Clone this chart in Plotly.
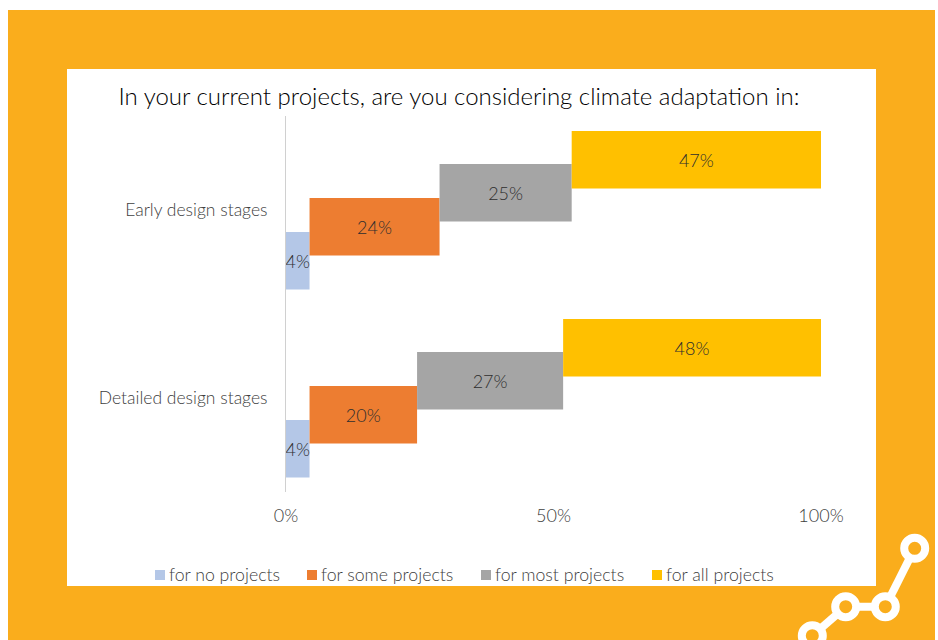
import plotly.graph_objects as go

W, H = 938, 640
PLOT_L, PLOT_R, PLOT_T, PLOT_B = 286, 821, 116, 492

categories = ["Early design stages", "Detailed design stages"]
series_names = ["for no projects", "for some projects", "for most projects", "for all projects"]
no_projects = [4.4, 4.4]
some_projects = [24.3, 20.1]
most_projects = [24.7, 27.3]
all_projects = [46.6, 48.2]
series_values = [no_projects, some_projects, most_projects, all_projects]
series_colors = ["#B4C7E7", "#ED7D31", "#A5A5A5", "#FFC000"]
x_ticks = [0, 50, 100]
x_tick_labels = ["0%", "50%", "100%"]

FONT = "Lato"
WEIGHT = 300
ORANGE = "#FAAD1C"
GREY_TEXT = "#404040"

# staircase: each series starts where the previous one ended and sits higher in its band
bar_height = 0.306
band_offsets = [0.117, -0.064, -0.245, -0.42]

# left edge of each key swatch along the bottom row
key_left = [155, 307, 481, 652]
KEY_Y = 575


def px(x):
    return (x - PLOT_L) / (PLOT_R - PLOT_L)


def py(y):
    return (PLOT_B - y) / (PLOT_B - PLOT_T)


def rect(x0, y0, x1, y1, color):
    return dict(type="rect", xref="paper", yref="paper", layer="below",
                x0=px(x0), x1=px(x1), y0=py(y0), y1=py(y1),
                fillcolor=color, line_width=0)


def connector(x0, y0, x1, y1):
    return dict(type="line", xref="paper", yref="paper", layer="above",
                x0=px(x0), x1=px(x1), y0=py(y0), y1=py(y1),
                line=dict(color="white", width=8))


def ring(cx, cy, r=10.5):
    return dict(type="circle", xref="paper", yref="paper", layer="above",
                x0=px(cx - r), x1=px(cx + r), y0=py(cy - r), y1=py(cy + r),
                fillcolor=ORANGE, line=dict(color="white", width=8))


nodes = [(812.3, 635.7), (845.7, 606.7), (885.3, 606.7), (914.7, 548.3)]
shapes = [rect(8, 10, 935, 645, ORANGE), rect(67, 69, 876, 586, "white")]
shapes += [connector(*a, *b) for a, b in zip(nodes, nodes[1:])]
shapes += [ring(*n) for n in nodes]

# colour key along the bottom of the white panel
annotations = []
for left, name, color in zip(key_left, series_names, series_colors):
    shapes.append(rect(left, KEY_Y - 5, left + 10, KEY_Y + 5, color))
    annotations.append(dict(
        text=name, xref="paper", yref="paper", x=px(left + 14), y=py(KEY_Y),
        xanchor="left", yanchor="middle", showarrow=False, xshift=-2, yshift=1,
        font=dict(family=FONT, size=17.7, color=GREY_TEXT, weight=WEIGHT),
    ))

fig = go.Figure()
cumulative = [0.0, 0.0]
for name, values, color, offset in zip(series_names, series_values, series_colors, band_offsets):
    fig.add_trace(go.Bar(
        name=name, y=categories, x=values, base=list(cumulative), orientation="h",
        width=bar_height, offset=offset, marker=dict(color=color, line_width=0),
        texttemplate="%{x:.0f}%", textposition="inside", insidetextanchor="middle",
        textangle=0, constraintext="none", cliponaxis=False,
        textfont=dict(family=FONT, size=18, color="#2E2E2E", weight=WEIGHT),
    ))
    cumulative = [c + v for c, v in zip(cumulative, values)]

fig.update_layout(
    width=W, height=H, barmode="overlay", showlegend=False,
    margin=dict(l=PLOT_L, r=W - PLOT_R, t=PLOT_T, b=H - PLOT_B, pad=0),
    paper_bgcolor="white", plot_bgcolor="rgba(0,0,0,0)",
    font=dict(family=FONT, color=GREY_TEXT),
    shapes=shapes, annotations=annotations,
    title=dict(text="In your current projects, are you considering climate adaptation in:",
               x=px(459), xanchor="center", xref="paper",
               y=1 - 97 / H, yanchor="middle",
               font=dict(family=FONT, size=24, color="#000000", weight=WEIGHT)),
    xaxis=dict(range=[0, 100], tickvals=x_ticks, ticktext=x_tick_labels,
               showgrid=False, zeroline=False, showline=False,
               ticks="outside", ticklen=7, tickcolor="rgba(0,0,0,0)",
               tickfont=dict(family=FONT, size=18, color=GREY_TEXT, weight=WEIGHT)),
    yaxis=dict(type="category", categoryorder="array", categoryarray=categories,
               range=[1.5, -0.5], showgrid=False, zeroline=False,
               showline=True, linecolor="#D0D0D0", linewidth=1,
               ticks="outside", ticklen=14, tickcolor="rgba(0,0,0,0)",
               tickfont=dict(family=FONT, size=17.5, color=GREY_TEXT, weight=WEIGHT)),
)

fig.write_html("out.html")
